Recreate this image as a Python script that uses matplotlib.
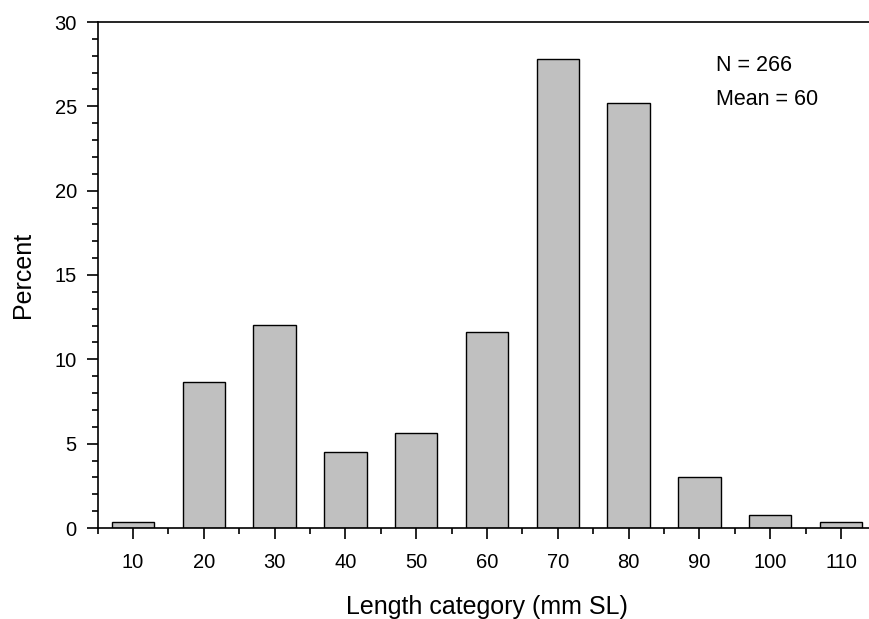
import numpy as np
import matplotlib.pyplot as plt

plt.rcParams['font.family'] = ['Liberation Sans', 'DejaVu Sans']

categories = [10, 20, 30, 40, 50, 60, 70, 80, 90, 100, 110]
percent = [0.38, 8.65, 12.03, 4.51, 5.64, 11.65, 27.82, 25.19, 3.01, 0.75, 0.38]
n_fish = 266
mean_len = 60

fig = plt.figure(figsize=(8.7, 6.19), dpi=100)
# right edge of the axes runs past the figure, as in the original (cropped)
ax = fig.add_axes([97.6 / 870, (619 - 528) / 619, (876.4 - 97.6) / 870, (528 - 22) / 619])

ax.bar(categories, percent, width=6, color='#c0c0c0', edgecolor='black', linewidth=1, zorder=2)

ax.set_xlim(5, 115)
ax.set_ylim(0, 30)
ax.set_xticks(categories)
ax.set_xticks(np.arange(5, 116, 10), minor=True)
ax.set_yticks(np.arange(0, 31, 5))
ax.set_yticks(np.arange(0, 31, 1), minor=True)

ax.spines['right'].set_visible(False)
for s in ax.spines.values():
    s.set_linewidth(1.2)
ax.tick_params(which='major', direction='out', length=8, width=1.2, labelsize=14.5, pad=7)
ax.tick_params(which='minor', direction='out', length=4.5, width=1.2)
ax.tick_params(axis='x', which='major', pad=10)

ax.set_xlabel('Length category (mm SL)', fontsize=18, labelpad=16.5)
ax.set_ylabel('Percent', fontsize=18, labelpad=14)

ax.text(92.4, 27.45, f'N = {n_fish}', fontsize=15.5, va='center', ha='left')
ax.text(92.4, 25.4, f'Mean = {mean_len}', fontsize=15.5, va='center', ha='left')

fig.savefig('out.png', dpi=100)
